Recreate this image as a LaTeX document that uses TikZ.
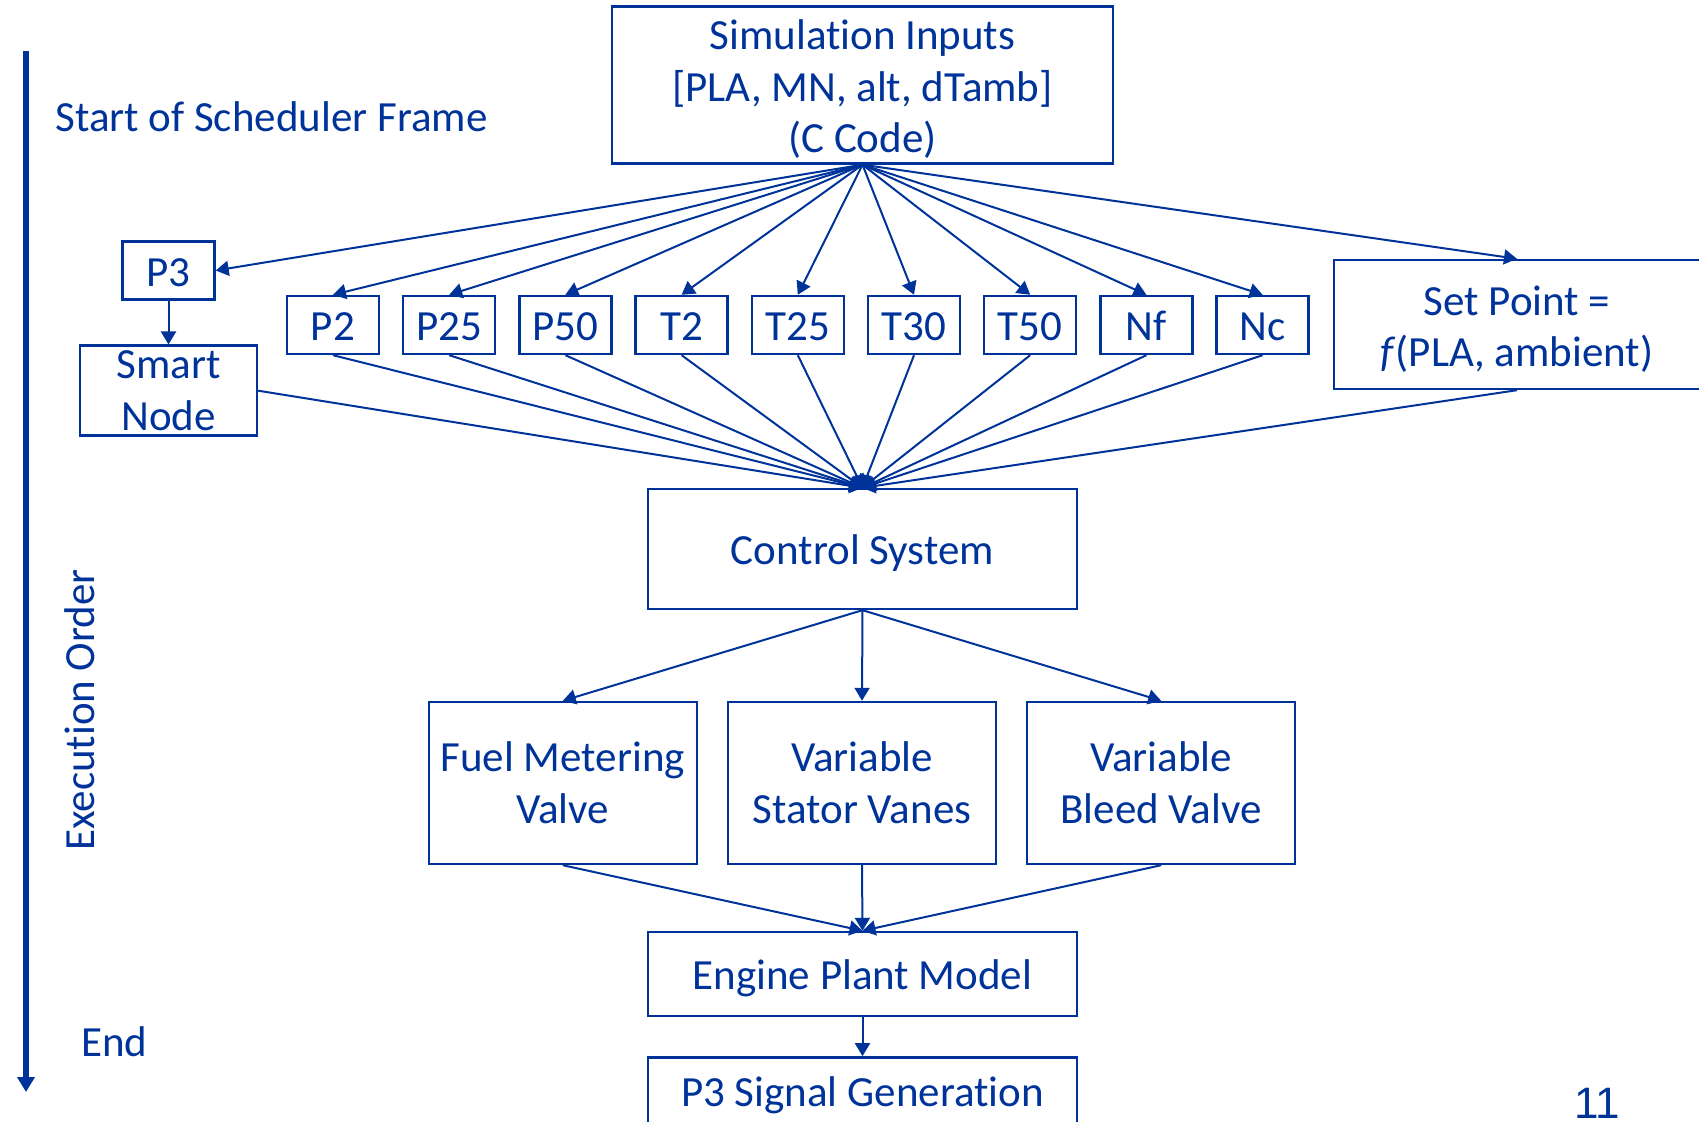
\documentclass[tikz,border=0pt]{standalone}
\usepackage{fontspec}
\setmainfont{Carlito}[Ligatures=NoCommon]
\newfontfamily\pagefont{Liberation Sans}
\usetikzlibrary{positioning,arrows.meta}
\definecolor{pptblue}{RGB}{0,51,153}
\newcommand{\upstrut}{\rule{0pt}{0.9em}}
\tikzset{
	frame/.style={draw, line width=1.2pt, inner sep=0pt},
	box/.style={frame, align=center},
	oneline/.style={frame, text height=19.8pt, text depth=3.9pt},
	sig/.style={oneline, minimum width=46pt, minimum height=29pt},
	conn/.style={line width=1pt, -{Triangle[length=6.5pt,width=7.5pt]}},
	lbl/.style={inner sep=0pt},
}

\begin{document}
\begin{tikzpicture}[x=0.5pt, y=-0.5pt, color=pptblue, font=\fontsize{21.5}{25.8}\selectfont]
	\useasboundingbox (0,0) rectangle (1699,1122);
	%% inputs
	\node[box, minimum width=250.5pt, minimum height=78.5pt] (in) at (862.5,85) {\upstrut Simulation Inputs\\{[PLA, MN, alt, dTamb]}\\(C Code)};
	%% sensors
	\node[sig] (p3) at (168.5,270.5) {P3};
	\node[box, minimum width=88.5pt, minimum height=45pt, below =21.9pt of p3] (sn) {Smart\\Node};
	\node[sig] (p2) at (333,325) {P2};
	\node[sig, right =10.9pt of p2] (p25) {P25};
	\node[sig, right =10.9pt of p25] (p50) {P50};
	\node[sig, right =10.9pt of p50] (t2) {T2};
	\node[sig, right =10.9pt of t2] (t25) {T25};
	\node[sig, right =10.9pt of t25] (t30) {T30};
	\node[sig, right =10.9pt of t30] (t50) {T50};
	\node[sig, right =10.9pt of t50] (nf) {Nf};
	\node[sig, right =10.9pt of nf] (nc) {Nc};
	\node[box, minimum width=183pt, minimum height=64.5pt] (sp) at (1517,324.5) {\upstrut Set Point =\\\textit{f}(PLA, ambient)};
	%% control and actuators
	\node[oneline, minimum width=214.5pt, minimum height=60pt] (cs) at (862.5,549) {Control System};
	\node[box, minimum width=134pt, minimum height=81pt] (vsv) at (862,783) {Variable\\Stator Vanes};
	\node[box, minimum width=134pt, minimum height=81pt, left =14.4pt of vsv] (fmv) {Fuel Metering\\Valve};
	\node[box, minimum width=134pt, minimum height=81pt, right =14.4pt of vsv] (vbv) {Variable\\Bleed Valve};
	\node[oneline, minimum width=214.5pt, minimum height=42pt] (epm) at (862.5,974) {Engine Plant Model};
	\node[oneline, minimum width=214.5pt, minimum height=33.3pt, below =19.5pt of epm] (p3s) {P3 Signal Generation};
	%% side labels
	\coordinate (top) at (26,51);
	\coordinate (bot) at (26,1092);
	\draw[line width=2.8pt, -{Triangle[length=7.5pt,width=8.5pt]}] (top) -- (bot);
	\node[lbl, anchor=west] (start) at (55,117) {Start of Scheduler Frame};
	\node[rotate=90] (order) at (80,710) {Execution Order};
	\node[lbl, anchor=west] (end) at (81,1042) {End};
	\node[lbl, anchor=base, font=\pagefont\fontsize{22}{26}\selectfont] (pg) at (1597,1118) {11};
	% fan out from inputs
	\draw (in.south) edge[conn] (p3.east) edge[conn] (p2.north) edge[conn] (p25.north)
		edge[conn] (p50.north) edge[conn] (t2.north) edge[conn] (t25.north)
		edge[conn] (t30.north) edge[conn] (t50.north) edge[conn] (nf.north)
		edge[conn] (nc.north) edge[conn] (sp.north);
	\draw (p3.south) edge[conn] (sn.north);
	% fan in to control
	\draw (sn.east) edge[conn] (cs.north) (p2.south) edge[conn] (cs.north)
		(p25.south) edge[conn] (cs.north) (p50.south) edge[conn] (cs.north)
		(t2.south) edge[conn] (cs.north) (t25.south) edge[conn] (cs.north)
		(t30.south) edge[conn] (cs.north) (t50.south) edge[conn] (cs.north)
		(nf.south) edge[conn] (cs.north) (nc.south) edge[conn] (cs.north)
		(sp.south) edge[conn] (cs.north);
	\draw (cs.south) edge[conn] (fmv.north) edge[conn] (vsv.north) edge[conn] (vbv.north);
	\draw (fmv.south) edge[conn] (epm.north) (vsv.south) edge[conn] (epm.north)
		(vbv.south) edge[conn] (epm.north);
	\draw (epm.south) edge[conn] (p3s.north);
\end{tikzpicture}
\end{document}
